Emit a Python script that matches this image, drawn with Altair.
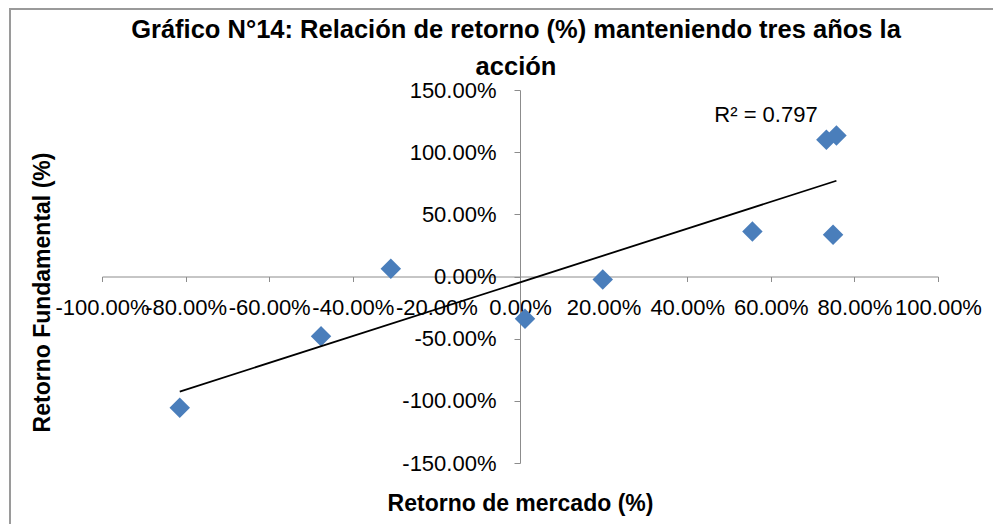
import altair as alt
import pandas as pd

# Data (percent values)
market_return = [-81.4, -47.6, -30.9, 1.2, 19.8, 55.6, 74.9, 73.3, 75.7]
fundamental_return = [-105.6, -48.0, 6.2, -34.0, -2.4, 36.2, 33.5, 110.0, 113.4]
x_ticks = [-100, -80, -60, -40, -20, 0, 20, 40, 60, 80, 100]
y_ticks = [-150, -100, -50, 0, 50, 100, 150]

title_lines = ["Gráfico N°14: Relación de retorno (%) manteniendo tres años la", "acción"]
x_title = "Retorno de mercado (%)"
y_title = "Retorno Fundamental (%)"

df = pd.DataFrame({"x": market_return, "y": fundamental_return})

W, H = 836, 373
FONT = "Liberation Sans"
AX = "#8c8c8c"
label_expr = "(datum.value < 0 ? '-' : '') + format(abs(datum.value), '.2f') + '%'"

x_enc = alt.X(
    "x:Q",
    scale=alt.Scale(domain=[-100, 100], nice=False, zero=False),
    axis=alt.Axis(
        values=x_ticks, labelExpr=label_expr, grid=False, orient="bottom",
        offset=-H / 2, tickSize=5, labelPadding=16, labelFontSize=22, labelFont=FONT,
        labelColor="#000000", domainColor=AX, tickColor=AX, labelFlush=False,
        labelOverlap=False, title=x_title, titleFont=FONT, titleFontSize=23,
        titleFontWeight="bold", titleColor="#000000", titleBaseline="alphabetic",
        titleY=234, titleX=W / 2,
    ),
)
y_enc = alt.Y(
    "y:Q",
    scale=alt.Scale(domain=[-150, 150], nice=False, zero=False),
    axis=alt.Axis(
        values=y_ticks, labelExpr=label_expr, grid=False, orient="left",
        offset=-W / 2, tickSize=6, labelPadding=18, labelFontSize=22, labelFont=FONT,
        labelColor="#000000", domainColor=AX, tickColor=AX, labelFlush=False,
        labelOverlap=False, title=y_title, titleFont=FONT, titleFontSize=23,
        titleFontWeight="bold", titleColor="#000000", titleBaseline="middle",
        titleAngle=270, titleAlign="center", titleX=-478, titleY=202,
    ),
)

base = alt.Chart(df)

points = base.mark_point(shape="diamond", filled=True, size=420, color="#4A7EBB", opacity=1).encode(
    x=x_enc, y=y_enc
)

trend = base.transform_regression("x", "y").mark_line(color="#000000", strokeWidth=1.8).encode(
    x="x:Q", y="y:Q"
)

r2 = (
    base.transform_regression("x", "y", params=True)
    .transform_calculate(label="'R² = ' + format(datum.rSquared, '.3f')")
    .mark_text(font=FONT, fontSize=22, color="#000000", align="center", baseline="middle")
    .encode(text="label:N", x=alt.value(664), y=alt.value(25))
)

frame = (
    alt.Chart(alt.Data(values=[{}]))
    .mark_rect(fill="transparent", stroke="#9a9a9a", strokeWidth=2)
    .encode(x=alt.value(-92), x2=alt.value(W + 80), y=alt.value(-81), y2=alt.value(H + 80))
)

chart = (
    alt.layer(frame, points, trend, r2)
    .properties(
        width=W,
        height=H,
        background="white",
        padding={"left": 94, "top": 82, "right": 55, "bottom": 61},
        autosize=alt.AutoSizeParams(type="none"),
        title=alt.TitleParams(
            title_lines, font=FONT, fontSize=25.5, fontWeight="bold", color="#000000",
            anchor="middle", frame="group", lineHeight=37, offset=0, dx=-4,
            baseline="alphabetic", dy=92,
        ),
    )
    .configure_view(stroke="transparent", strokeWidth=0)
)

chart.save("out.html", embed_options={"renderer": "svg", "actions": False})
